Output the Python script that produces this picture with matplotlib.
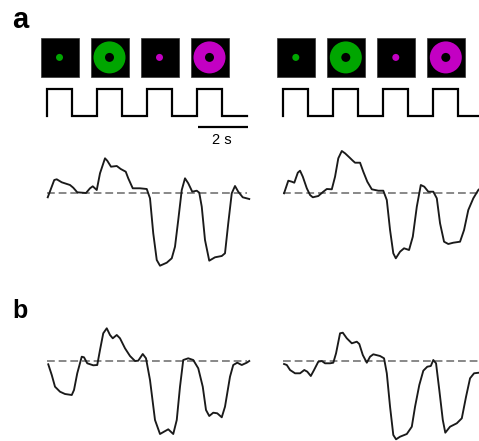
import matplotlib
matplotlib.use("Agg")
import matplotlib.pyplot as plt
from matplotlib.patches import Rectangle, Ellipse
import numpy as np

plt.rcParams['font.family'] = ['Liberation Sans', 'DejaVu Sans']

# stimulus protocol (s)
stim_on = [0, 2, 4, 6]
stim_dur = 1.0
sweep_len = 8.0
stim_color = ['#00a600', '#00a600', '#c300c3', '#c300c3']
stim_kind = ['spot', 'annulus', 'spot', 'annulus']

# traces (time s, response a.u.)
a1_t = [0.03, 0.29, 0.39, 0.59, 0.92, 1.05, 1.21, 1.56, 1.72, 1.83, 1.99, 2.12, 2.32, 2.41,
        2.56, 2.79, 2.95, 3.15, 3.25, 3.43, 3.72, 3.99, 4.12, 4.25, 4.39, 4.52, 4.79, 4.99,
        5.12, 5.25, 5.39, 5.52, 5.65, 5.81, 5.99, 6.09, 6.19, 6.32, 6.49, 6.72, 6.99, 7.12,
        7.25, 7.39, 7.52, 7.65, 7.83, 8.09]
a1_v = [-0.40, 1.33, 1.40, 1.10, 0.83, 0.56, 0.10, 0.03, 0.50, 0.70, 0.33, 2.00, 3.50, 3.26,
        2.66, 2.73, 2.43, 2.16, 1.50, 0.50, 0.50, 0.43, -0.50, -4.00, -6.67, -7.24, -6.94, -6.50,
        -5.34, -2.67, 0.33, 1.50, 1.00, 0.16, 0.26, 0.06, -1.34, -4.67, -6.74, -6.40, -6.27, -6.00,
        -3.00, 0.00, 0.73, 0.16, -0.40, -0.57]

a2_t = [0.03, 0.20, 0.34, 0.44, 0.58, 0.67, 0.78, 0.94, 1.07, 1.18, 1.40, 1.60, 1.74, 1.94,
        2.07, 2.20, 2.34, 2.47, 2.64, 2.78, 2.87, 3.07, 3.20, 3.36, 3.54, 3.80, 4.00, 4.14,
        4.27, 4.40, 4.50, 4.67, 4.83, 5.03, 5.18, 5.34, 5.50, 5.64, 5.80, 6.00, 6.14, 6.27,
        6.43, 6.60, 6.80, 7.07, 7.23, 7.40, 7.60, 7.80, 7.99]
a2_v = [0.00, 1.26, 1.16, 1.06, 2.06, 2.26, 1.66, 0.50, -0.17, -0.40, -0.27, 0.16, 0.43, 0.40,
        1.66, 3.50, 4.23, 4.00, 3.60, 3.26, 3.06, 3.06, 2.16, 1.16, 0.40, 0.26, 0.26, -0.67,
        -3.67, -6.00, -6.50, -5.84, -5.50, -5.67, -4.34, -1.34, 0.83, 0.66, 0.16, 0.16, -0.50, -3.00,
        -4.84, -5.07, -4.94, -4.84, -3.67, -1.67, -0.50, 0.33, 0.73]

b1_t = [0.05, 0.19, 0.32, 0.52, 0.72, 0.99, 1.08, 1.21, 1.39, 1.48, 1.61, 1.85, 2.01, 2.12,
        2.25, 2.39, 2.52, 2.63, 2.79, 2.92, 3.12, 3.32, 3.52, 3.65, 3.83, 3.96, 4.12, 4.32,
        4.52, 4.68, 4.85, 5.05, 5.19, 5.32, 5.45, 5.65, 5.85, 6.05, 6.23, 6.36, 6.49, 6.65,
        6.81, 6.99, 7.12, 7.32, 7.45, 7.61, 7.79, 7.99, 8.09]
b1_v = [-0.33, -1.40, -2.57, -3.07, -3.30, -3.40, -2.90, -1.23, 0.43, 0.37, -0.23, -0.43, -0.40, 1.10,
        2.77, 3.27, 2.60, 2.27, 2.60, 2.27, 1.27, 0.50, 0.00, 0.03, 0.70, 0.27, -1.90, -5.90,
        -7.30, -7.07, -6.83, -7.30, -5.90, -2.57, 0.10, 0.27, 0.10, -0.73, -2.57, -4.90, -5.50, -5.17,
        -5.23, -5.63, -4.57, -1.57, -0.40, -0.17, -0.40, -0.17, 0.00]

b2_t = [0.03, 0.14, 0.27, 0.47, 0.67, 0.84, 0.96, 1.10, 1.23, 1.40, 1.54, 1.67, 1.87, 2.00,
        2.11, 2.27, 2.38, 2.54, 2.74, 2.94, 3.04, 3.18, 3.34, 3.47, 3.60, 3.87, 4.03, 4.14,
        4.27, 4.40, 4.51, 4.67, 4.94, 5.14, 5.27, 5.44, 5.60, 5.76, 5.90, 6.00, 6.11, 6.24,
        6.38, 6.48, 6.67, 6.94, 7.14, 7.31, 7.47, 7.63, 7.83, 7.99]
b2_v = [-0.30, -0.40, -0.90, -1.23, -1.23, -0.90, -1.07, -1.50, -0.90, -0.07, 0.00, -0.23, -0.23, -0.17,
        0.77, 2.77, 2.83, 2.27, 1.77, 1.93, 1.70, 0.60, -0.17, 0.43, 0.67, 0.50, 0.27, -1.23,
        -4.57, -7.40, -7.83, -7.57, -7.30, -6.57, -4.57, -2.40, -0.97, -0.57, -0.50, 0.10, -0.23, -2.90,
        -5.90, -7.17, -6.57, -6.23, -5.73, -3.57, -1.73, -1.23, -1.17, -1.15]

W, H = 479, 441
fig = plt.figure(figsize=(W / 100, H / 100), dpi=100)


def box(x0, x1, y0, y1):
    # pixel box -> figure fraction
    return [x0 / W, 1 - y1 / H, (x1 - x0) / W, (y1 - y0) / H]


def stim_axes(x0, scalebar):
    ax = fig.add_axes(box(x0, x0 + 200, 32.3, 148.4))
    ax.set_xlim(0, sweep_len)
    ax.set_ylim(-1.2, 3.1)
    ax.axis('off')
    # square wave
    xs, ys = [0], [0]
    for on in stim_on:
        xs += [on, on, on + stim_dur, on + stim_dur]
        ys += [0, 1, 1, 0]
    xs.append(sweep_len)
    ys.append(0)
    ax.plot(xs, ys, color='black', lw=1.6, solid_joinstyle='miter', clip_on=False)
    # stimulus icons
    for on, c, kind in zip(stim_on, stim_color, stim_kind):
        cx = on + stim_dur / 2
        cy = 2.17
        ax.add_patch(Rectangle((cx - 0.76, cy - 0.72), 1.52, 1.44, facecolor='black',
                               edgecolor='#333333', lw=0.5, clip_on=False))
        if kind == 'spot':
            ax.add_patch(Ellipse((cx, cy), 0.28, 0.26, facecolor=c, edgecolor='none',
                                 clip_on=False))
        else:
            ax.add_patch(Ellipse((cx, cy), 1.28, 1.185, facecolor=c, edgecolor='none',
                                 clip_on=False))
            ax.add_patch(Ellipse((cx, cy), 0.36, 0.333, facecolor='black', edgecolor='none',
                                 clip_on=False))
    if scalebar:
        ax.plot([6.04, 8.04], [-0.40, -0.40], color='black', lw=1.6, solid_capstyle='butt',
                clip_on=False)
        ax.text(7.0, -0.89, '2 s', ha='center', va='center', fontsize=10.5)


def trace_axes(x0, y0, y1, ylim, t, v):
    ax = fig.add_axes(box(x0, x0 + 200, y0, y1))
    ax.set_xlim(0, sweep_len)
    ax.set_ylim(*ylim)
    ax.axis('off')
    ax.axhline(0, color='#888888', lw=1.4, dashes=(4, 2))
    ax.plot(t, v, color='#1a1a1a', lw=1.35, solid_joinstyle='round', clip_on=False)


stim_axes(47, True)
stim_axes(283.3, False)
trace_axes(47, 143.3, 273.3, (-8, 5), a1_t, a1_v)
trace_axes(283.3, 143.3, 273.3, (-8, 5), a2_t, a2_v)
trace_axes(47, 321, 446, (-8.5, 4), b1_t, b1_v)
trace_axes(283.3, 321, 446, (-8.5, 4), b2_t, b2_v)

fig.text(12 / W, 1 - 28 / H, 'a', fontsize=21, fontweight='bold', va='baseline')
fig.text(12 / W, 1 - 318 / H, 'b', fontsize=18, fontweight='bold', va='baseline')

fig.savefig('out.png', dpi=100)
